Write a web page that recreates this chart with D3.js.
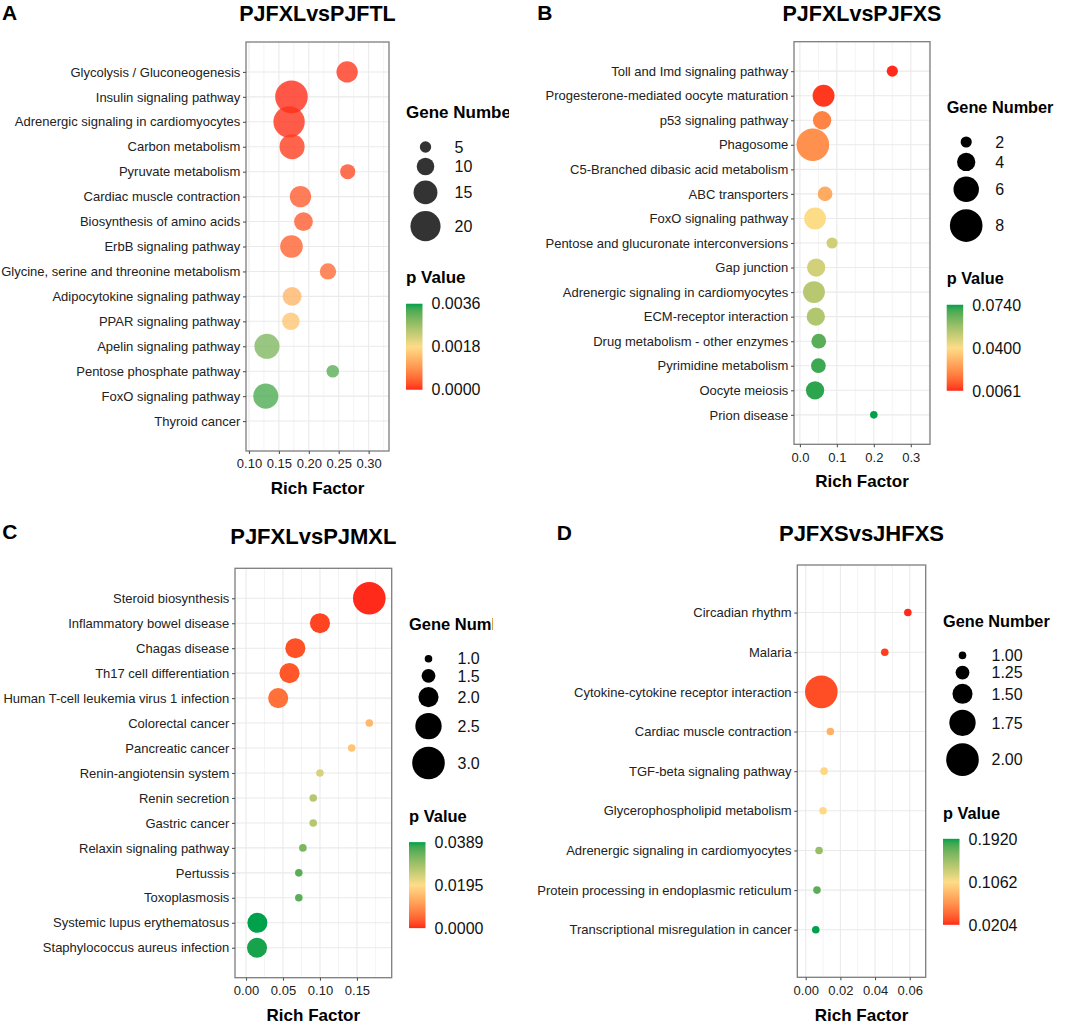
<!DOCTYPE html>
<html><head><meta charset="utf-8">
<script src="https://cdn.jsdelivr.net/npm/d3@7"></script>
<style>
body{margin:0;background:#fff}
svg{display:block}
text{font-family:"Liberation Sans",Arial,Helvetica,sans-serif}
</style>
</head><body>
<svg id="c" width="1065" height="1025"></svg>
<script>
// ---------------- DATA ----------------
// Panel A: PJFXLvsPJFTL
const catsA = ["Glycolysis / Gluconeogenesis","Insulin signaling pathway","Adrenergic signaling in cardiomyocytes","Carbon metabolism","Pyruvate metabolism","Cardiac muscle contraction","Biosynthesis of amino acids","ErbB signaling pathway","Glycine, serine and threonine metabolism","Adipocytokine signaling pathway","PPAR signaling pathway","Apelin signaling pathway","Pentose phosphate pathway","FoxO signaling pathway","Thyroid cancer"];
const richA = [0.264,0.171,0.167,0.172,0.265,0.186,0.191,0.171,0.232,0.172,0.170,0.130,0.240,0.128,null];
const geneA = [13,22,21,16,8,13,11,14,9,11,10,16,6,16,null];
const pA    = [0.00007,0.00002,0.00004,0.0001,0.0002,0.00036,0.00036,0.0004,0.0005,0.00133,0.00151,0.00295,0.00324,0.00331,null];
const xTicksA = [0.10,0.15,0.20,0.25,0.30];
const geneTicksA = [5,10,15,20];
const geneLimitsA = [2,22];
const pTicksA = [0.0000,0.0018,0.0036];

// Panel B: PJFXLvsPJFXS
const catsB = ["Toll and Imd signaling pathway","Progesterone-mediated oocyte maturation","p53 signaling pathway","Phagosome","C5-Branched dibasic acid metabolism","ABC transporters","FoxO signaling pathway","Pentose and glucuronate interconversions","Gap junction","Adrenergic signaling in cardiomyocytes","ECM-receptor interaction","Drug metabolism - other enzymes","Pyrimidine metabolism","Oocyte meiosis","Prion disease"];
const richB = [0.250,0.064,0.060,0.035,null,0.068,0.041,0.087,0.044,0.038,0.043,0.051,0.050,0.041,0.200];
const geneB = [2,5,4,8,null,3,5,2,4,5,4,3,3,4,1];
const pB    = [0.0061,0.0075,0.0197,0.0224,null,0.0285,0.0401,0.0482,0.0475,0.0523,0.0536,0.0672,0.0706,0.0720,0.0740];
const xTicksB = [0.0,0.1,0.2,0.3];
const geneTicksB = [2,4,6,8];
const geneLimitsB = [1,8];
const pTicksB = [0.0061,0.0400,0.0740];

// Panel C: PJFXLvsPJMXL
const catsC = ["Steroid biosynthesis","Inflammatory bowel disease","Chagas disease","Th17 cell differentiation","Human T-cell leukemia virus 1 infection","Colorectal cancer","Pancreatic cancer","Renin-angiotensin system","Renin secretion","Gastric cancer","Relaxin signaling pathway","Pertussis","Toxoplasmosis","Systemic lupus erythematosus","Staphylococcus aureus infection"];
const richC = [0.1667,0.1,0.0667,0.0588,0.0435,0.1667,0.1429,0.1,0.0909,0.0909,0.0769,0.0714,0.0714,0.0154,0.0149];
const geneC = [3,2,2,2,2,1,1,1,1,1,1,1,1,2,2];
const pC    = [0.0,0.0016,0.0027,0.0031,0.0058,0.0144,0.0163,0.0233,0.0268,0.0268,0.0323,0.0350,0.0350,0.0389,0.0385];
const xTicksC = [0.00,0.05,0.10,0.15];
const geneTicksC = [1.0,1.5,2.0,2.5,3.0];
const geneLimitsC = [1,3];
const pTicksC = [0.0000,0.0195,0.0389];

// Panel D: PJFXSvsJHFXS
const catsD = ["Circadian rhythm","Malaria","Cytokine-cytokine receptor interaction","Cardiac muscle contraction","TGF-beta signaling pathway","Glycerophospholipid metabolism","Adrenergic signaling in cardiomyocytes","Protein processing in endoplasmic reticulum","Transcriptional misregulation in cancer"];
const richD = [0.0589,0.0456,0.0090,0.0142,0.0106,0.0100,0.0077,0.0065,0.0058];
const geneD = [1,1,2,1,1,1,1,1,1];
const pD    = [0.0204,0.0255,0.0307,0.0805,0.1028,0.1045,0.1508,0.1748,0.1920];
const xTicksD = [0.00,0.02,0.04,0.06];
const geneTicksD = [1.00,1.25,1.50,1.75,2.00];
const geneLimitsD = [1,2];
const pTicksD = [0.0204,0.1062,0.1920];

// ---------------- DRAW ----------------
const svg = d3.select("#c");
const defs = svg.append("defs");

function drawPanel(id, title, letter, cats, rich, gene, pv, xTicks, geneTicks, geneLimits, pTicks, opt) {
  const L = opt;
  defs.append("clipPath").attr("id","clip"+id).append("rect")
    .attr("x",L.clip[0]).attr("y",L.clip[1]).attr("width",L.clip[2]).attr("height",L.clip[3]);
  const g = svg.append("g").attr("clip-path","url(#clip"+id+")");

  const x = d3.scaleLinear().domain(L.xDomain).range([L.left, L.right]);
  const y = d3.scalePoint().domain(cats).range([L.top, L.bottom]).padding(1.2);
  const r = d3.scaleLinear().domain(geneLimits).range([3.8, 16.3]);
  const col = d3.scaleLinear().domain(pTicks).range(["#FF2A1A","#FEDC88","#00A14B"]).interpolate(d3.interpolateLab);

  // letter & title
  g.append("text").attr("x",L.letter[0]).attr("y",L.letter[1]).attr("font-size",21).attr("font-weight","bold").attr("fill","#000").text(letter);
  g.append("text").attr("x",(L.left+L.right)/2).attr("y",L.titleY).attr("text-anchor","middle").attr("font-size",L.titleSize).attr("font-weight","bold").attr("fill","#000").text(title);

  // grid
  const step = xTicks[1]-xTicks[0];
  const minors = [];
  for (let v = xTicks[0]-step/2; v <= L.xDomain[1]; v += step) if (v >= L.xDomain[0]) minors.push(v);
  const grid = g.append("g");
  grid.selectAll(".mn").data(minors).enter().append("line")
    .attr("x1",d=>x(d)).attr("x2",d=>x(d)).attr("y1",L.top).attr("y2",L.bottom)
    .attr("stroke","#EFEFEF").attr("stroke-width",0.7);
  grid.selectAll(".mj").data(xTicks).enter().append("line")
    .attr("x1",d=>x(d)).attr("x2",d=>x(d)).attr("y1",L.top).attr("y2",L.bottom)
    .attr("stroke","#EAEAEA").attr("stroke-width",1.1);
  grid.selectAll(".hz").data(cats).enter().append("line")
    .attr("x1",L.left).attr("x2",L.right).attr("y1",d=>y(d)).attr("y2",d=>y(d))
    .attr("stroke","#EAEAEA").attr("stroke-width",1.1);

  // points
  const pts = cats.map((c,i)=>({c, rf:rich[i], n:gene[i], p:pv[i]})).filter(d=>d.rf!=null);
  g.append("g").selectAll("circle").data(pts).enter().append("circle")
    .attr("cx",d=>x(d.rf)).attr("cy",d=>y(d.c)).attr("r",d=>r(d.n))
    .attr("fill",d=>col(d.p)).attr("fill-opacity",L.alpha);

  // border
  g.append("rect").attr("x",L.left).attr("y",L.top).attr("width",L.right-L.left).attr("height",L.bottom-L.top)
    .attr("fill","none").attr("stroke","#7d7d7d").attr("stroke-width",1.3);

  // axes
  const ax = g.append("g").attr("transform",`translate(0,${L.bottom})`)
    .call(d3.axisBottom(x).tickValues(xTicks).tickFormat(d3.format(L.fmt)).tickSize(3).tickSizeOuter(0).tickPadding(5.1));
  ax.select(".domain").remove();
  ax.selectAll("line").attr("stroke","#555").attr("stroke-width",1.1);
  ax.selectAll("text").attr("font-size",13).attr("fill","#222").attr("font-family",null);

  const ay = g.append("g").attr("transform",`translate(${L.left},0)`)
    .call(d3.axisLeft(y).tickSize(3).tickSizeOuter(0).tickPadding(2.7));
  ay.select(".domain").remove();
  ay.selectAll("line").attr("stroke","#555").attr("stroke-width",1.1);
  ay.selectAll("text").attr("font-size",13).attr("fill","#222").attr("font-family",null);

  g.append("text").attr("x",(L.left+L.right)/2).attr("y",L.xTitleY).attr("text-anchor","middle")
    .attr("font-size",17).attr("font-weight","bold").attr("fill","#000").text("Rich Factor");

  // size legend
  const lx = L.legX;
  g.append("text").attr("x",lx).attr("y",L.geneTitleY).attr("font-size",L.legTitleSize).attr("font-weight","bold").attr("fill","#000").text("Gene Number");
  const hs = geneTicks.map(v=>Math.max(17, 2.5*r(v)));
  let cy = L.geneTitleY + 28.7;
  const centers = [];
  hs.forEach((h,i)=>{ if(i>0) cy += (hs[i-1]+h)/2; centers.push(cy); });
  const sl = g.append("g");
  geneTicks.forEach((v,i)=>{
    sl.append("circle").attr("cx",lx+19.5).attr("cy",centers[i]).attr("r",r(v)).attr("fill","#000").attr("fill-opacity",L.alpha);
    sl.append("text").attr("x",lx+48.5).attr("y",centers[i]).attr("dy","0.36em").attr("font-size",16).attr("fill","#111").text(d3.format(L.gfmt)(v));
  });
  const lastBottom = centers[centers.length-1] + hs[hs.length-1]/2;

  // colour legend
  const pTitleY = lastBottom + 38.5;
  g.append("text").attr("x",lx).attr("y",pTitleY).attr("font-size",L.legTitleSize).attr("font-weight","bold").attr("fill","#000").text("p Value");
  const barTop = pTitleY + 20.3, barH = 86, barW = 16.5;
  const grad = defs.append("linearGradient").attr("id","grad"+id).attr("x1",0).attr("y1",1).attr("x2",0).attr("y2",0);
  d3.range(0,1.0001,0.05).forEach(t=>{
    grad.append("stop").attr("offset",t).attr("stop-color",col(pTicks[0]+t*(pTicks[2]-pTicks[0])));
  });
  g.append("rect").attr("x",lx).attr("y",barTop).attr("width",barW).attr("height",barH).attr("fill",`url(#grad${id})`);
  const pl = d3.scaleLinear().domain([pTicks[0],pTicks[2]]).range([barTop+barH, barTop]);
  g.append("g").selectAll("text").data(pTicks).enter().append("text")
    .attr("x",lx+barW+9).attr("y",d=>pl(d)).attr("dy","0.36em").attr("font-size",16).attr("fill","#111")
    .text(d=>d3.format(".4f")(d));
}

drawPanel("A","PJFXLvsPJFTL","A",catsA,richA,geneA,pA,xTicksA,geneTicksA,geneLimitsA,pTicksA,
  {clip:[0,0,509,500], letter:[2,19.5], titleY:21, titleSize:21.5, left:246, right:389, top:42, bottom:451,
   xDomain:[0.095,0.334], fmt:".2f", gfmt:"d", xTitleY:494, legX:406, geneTitleY:118.3, legTitleSize:17, alpha:0.8});
drawPanel("B","PJFXLvsPJFXS","B",catsB,richB,geneB,pB,xTicksB,geneTicksB,geneLimitsB,pTicksB,
  {clip:[530,0,535,500], letter:[537.3,19.5], titleY:21, titleSize:21.5, left:794, right:930, top:41.7, bottom:444.3,
   xDomain:[-0.016,0.352], fmt:".1f", gfmt:"d", xTitleY:487.3, legX:946.7, geneTitleY:113.3, legTitleSize:16.3, alpha:1});
drawPanel("C","PJFXLvsPJMXL","C",catsC,richC,geneC,pC,xTicksC,geneTicksC,geneLimitsC,pTicksC,
  {clip:[0,500,493,525], letter:[2.3,539.3], titleY:544.3, titleSize:22, left:235, right:391.7, top:568.3, bottom:977.7,
   xDomain:[-0.0149,0.197], fmt:".2f", gfmt:".1f", xTitleY:1021, legX:409, geneTitleY:630, legTitleSize:16.5, alpha:1});
drawPanel("D","PJFXSvsJHFXS","D",catsD,richD,geneD,pD,xTicksD,geneTicksD,geneLimitsD,pTicksD,
  {clip:[530,500,535,525], letter:[556.7,540], titleY:541, titleSize:22, left:797.3, right:925.7, top:565, bottom:977.3,
   xDomain:[-0.00485,0.0692], fmt:".2f", gfmt:".2f", xTitleY:1021, legX:943, geneTitleY:626.7, legTitleSize:16.3, alpha:1});
</script>
</body></html>
